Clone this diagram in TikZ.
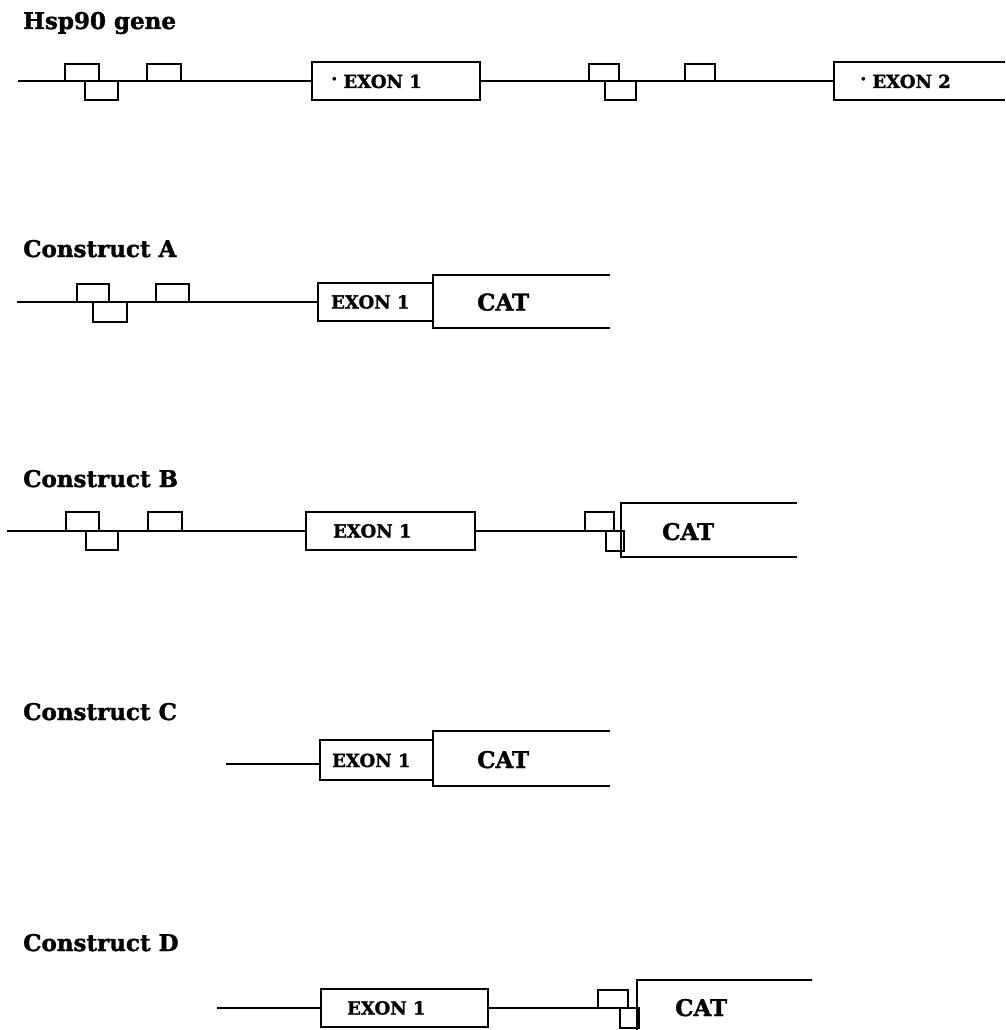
\documentclass[tikz,border=0pt]{standalone}
\usepackage{fontspec}
\setmainfont{DejaVu Serif}[BoldFeatures={FakeBold=1.5}]
\tikzset{
  gbox/.style={draw, line width=1.8pt, inner sep=0pt, outer sep=0pt, anchor=north west},
  obox/.style={inner sep=0pt, outer sep=0pt, anchor=north west},
  dnaline/.style={line width=1.8pt},
  titletext/.style={font=\fontsize{23}{26}\selectfont\bfseries, anchor=base west, inner sep=0pt},
  exontext/.style={font=\fontsize{18}{20}\selectfont\bfseries, anchor=base west, inner sep=0pt},
  cattext/.style={font=\fontsize{23}{26}\selectfont\bfseries, anchor=base west, inner sep=0pt},
}
% closed box: name, x1, y1, x2, y2 (top-left to bottom-right)
\newcommand\gbox[5]{\node[gbox, minimum width={(#4-#2)*1pt}, minimum height={(#5-#3)*1pt}] (#1) at (#2,#3) {};}
% box open on its right side
\newcommand\obox[5]{\node[obox, minimum width={(#4-#2)*1pt}, minimum height={(#5-#3)*1pt}] (#1) at (#2,#3) {};
  \draw[dnaline] (#1.north east) -- (#1.north west) -- (#1.south west) -- (#1.south east);}
% raised dot in front of exon labels
\newcommand\exdot{\raisebox{3pt}{·}\hspace{6pt}}
\begin{document}
\begin{tikzpicture}[x=1pt, y=-1pt]
\useasboundingbox (0,0) rectangle (1005,1030);

% ---------- Hsp90 gene ----------
\node[titletext] (tH) at (23,29) {Hsp90 gene};
\coordinate (hs) at (18,81);
\gbox{h1}{65}{64}{99}{81}
\gbox{h2}{85}{81}{118}{100}
\gbox{h3}{147}{64}{181}{81}
\gbox{hx1}{312}{62}{480}{100}
\gbox{h4}{589}{64}{619}{81}
\gbox{h5}{605}{81}{636}{100}
\gbox{h6}{685}{64}{715}{81}
\obox{hx2}{834}{62}{1005}{100}
\draw[dnaline] (hs) -- (h1.south west);
\draw[dnaline] (h2.north east) -- (h3.south west);
\draw[dnaline] (h3.south east) -- (hx1.west);
\draw[dnaline] (hx1.east) -- (h4.south west);
\draw[dnaline] (h5.north east) -- (h6.south west);
\draw[dnaline] (h6.south east) -- (hx2.west);
\node[exontext] (lH1) at (331,88) {\exdot EXON 1};
\node[exontext] (lH2) at (860,88) {\exdot EXON 2};

% ---------- Construct A ----------
\node[titletext] (tA) at (23,257) {Construct A};
\coordinate (as) at (17,302);
\gbox{a1}{77}{284}{109}{302}
\gbox{a2}{93}{302}{127}{322}
\gbox{a3}{156}{284}{189}{302}
\gbox{ax}{318}{283}{433}{321}
\obox{ac}{433}{275}{610}{328}
\draw[dnaline] (as) -- (a1.south west);
\draw[dnaline] (a2.north east) -- (a3.south west);
\draw[dnaline] (a3.south east) -- (ax.west);
\node[exontext] (lAx) at (331,308.5) {EXON 1};
\node[cattext] (lAc) at (477,310.5) {CAT};

% ---------- Construct B ----------
\node[titletext] (tB) at (23,487) {Construct B};
\coordinate (bs) at (7,531);
\gbox{b1}{66}{512}{99}{531}
\gbox{b2}{86}{531}{118}{550}
\gbox{b3}{148}{512}{182}{531}
\gbox{bx}{306}{512}{475}{550}
\gbox{b4}{585}{512}{614}{531}
\gbox{b5}{606}{531}{624}{551}
\obox{bc}{621}{503}{797}{557}
\draw[dnaline] (bs) -- (b1.south west);
\draw[dnaline] (b2.north east) -- (b3.south west);
\draw[dnaline] (b3.south east) -- (bx.west);
\draw[dnaline] (bx.east) -- (b4.south west);
\node[exontext] (lBx) at (333,537.5) {EXON 1};
\node[cattext] (lBc) at (662,540) {CAT};

% ---------- Construct C ----------
\node[titletext] (tC) at (23,720) {Construct C};
\coordinate (cs) at (226,764);
\gbox{cx}{320}{740}{433}{780}
\obox{cc}{433}{731}{610}{786}
\draw[dnaline] (cs) -- (cs -| cx.west);
\node[exontext] (lCx) at (332,767) {EXON 1};
\node[cattext] (lCc) at (477,768) {CAT};

% ---------- Construct D ----------
\node[titletext] (tD) at (23,951) {Construct D};
\coordinate (ds) at (217,1008);
\gbox{dx}{321}{989}{488}{1027}
\gbox{d4}{598}{990}{628}{1008}
\gbox{d5}{620}{1008}{639}{1028}
\node[obox, minimum width=175pt, minimum height=50pt] (dc) at (637,980) {};
\draw[dnaline] (dc.north east) -- (dc.north west) -- (dc.south west);
\draw[dnaline] (ds) -- (dx.west);
\draw[dnaline] (dx.east) -- (d4.south west);
\node[exontext] (lDx) at (347,1014.5) {EXON 1};
\node[cattext] (lDc) at (675,1016) {CAT};
\end{tikzpicture}
\end{document}
